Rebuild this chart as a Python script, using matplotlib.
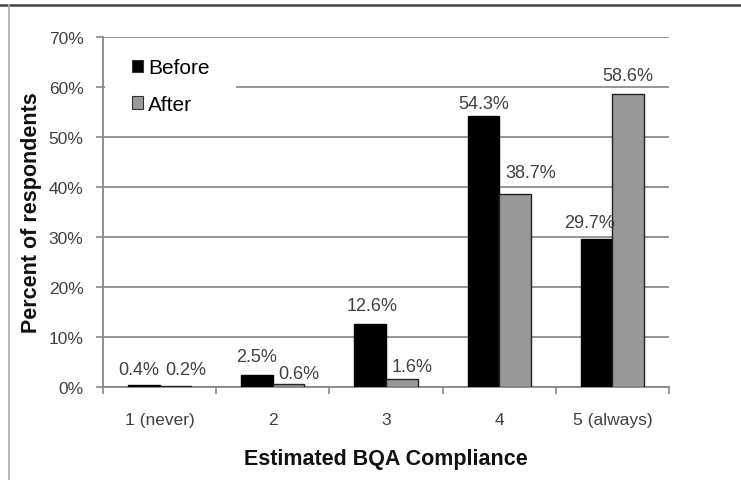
import matplotlib
matplotlib.use("Agg")
import matplotlib.pyplot as plt
from matplotlib.lines import Line2D
from matplotlib.patches import Rectangle
import numpy as np

categories = ["1 (never)", "2", "3", "4", "5 (always)"]
before = [0.4, 2.5, 12.6, 54.3, 29.7]
after = [0.2, 0.6, 1.6, 38.7, 58.6]
series_names = ["Before", "After"]

# hand-placed label nudges (pixels: right, up from bar top)
before_label_shift = [(-5, 15), (0, 18), (2, 18), (0, 12), (-7, 16)]
after_label_shift = [(10, 16), (10, 10), (10, 12), (16, 21), (0, 18)]

plt.rcParams["font.family"] = ["Liberation Sans", "DejaVu Sans"]

fig = plt.figure(figsize=(7.41, 4.81), dpi=100)
ax = fig.add_axes([103 / 741, 93 / 481, 566 / 741, 350 / 481])

x = np.arange(len(categories))
w = 0.28
b1 = ax.bar(x - w / 2, before, w, color="black", edgecolor="black", linewidth=1, label=series_names[0], zorder=3)
b2 = ax.bar(x + w / 2, after, w, color="#999999", edgecolor="#222222", linewidth=1, label=series_names[1], zorder=3)

px = 72 / 100  # points per pixel
for rects, vals, shifts in ((b1, before, before_label_shift), (b2, after, after_label_shift)):
    for r, v, (dx, dy) in zip(rects, vals, shifts):
        ax.annotate(f"{v:.1f}%", (r.get_x() + r.get_width() / 2, v),
                    xytext=(dx * px, dy * px), textcoords="offset points",
                    ha="center", va="center", fontsize=13, color="#404040", zorder=4)

ax.set_xlim(-0.5, len(categories) - 0.5)
ax.set_ylim(0, 70)
ax.set_yticks(np.arange(0, 71, 10))
ax.set_yticklabels([f"{t}%" for t in range(0, 71, 10)], fontsize=12.5, color="#404040")
ax.set_xticks(x)
ax.set_xticklabels(categories, fontsize=12.5, color="#404040")
ax.set_xticks(np.arange(-0.5, len(categories), 1), minor=True)
ax.tick_params(axis="x", which="major", length=0, pad=25 * px)
ax.tick_params(axis="x", which="minor", length=5, width=1.2, color="#888888", direction="out")
ax.tick_params(axis="y", length=5, width=1.2, color="#888888", direction="out", pad=9)

ax.yaxis.grid(True, color="#8c8c8c", linewidth=1.3)
ax.set_axisbelow(True)
for s in ("top", "right"):
    ax.spines[s].set_visible(False)
for s in ("left", "bottom"):
    ax.spines[s].set_color("#888888")
    ax.spines[s].set_linewidth(1.3)

ax.set_ylabel("Percent of respondents", fontsize=15.5, fontweight="bold", color="#111111")
ax.yaxis.set_label_coords(-71 / 566, 0.5)
ax.set_xlabel("Estimated BQA Compliance", fontsize=15.5, fontweight="bold", color="#111111")
ax.xaxis.set_label_coords(0.5, -(460 - 388) / 350)
ax.xaxis.label.set_va("center")
ax.yaxis.label.set_va("center")

# white backing behind the legend, covering the gridline it sits on
ax.add_patch(Rectangle((0.003, 0.76), 0.232, 0.223, transform=ax.transAxes,
                       facecolor="white", edgecolor="none", zorder=1))

leg = ax.legend(loc="upper left", bbox_to_anchor=(0.034, 0.966), frameon=False, fontsize=15,
                handlelength=0.55, handleheight=0.55, handletextpad=0.25, borderpad=0.45,
                labelspacing=0.85, borderaxespad=0)
leg.set_zorder(5)
for h in leg.legend_handles:
    h.set_linewidth(0.8)
    h.set_edgecolor("#333333")

# Frame lines around the figure
fig.add_artist(Line2D([0, 1], [1 - 6 / 481, 1 - 6 / 481], transform=fig.transFigure, color="#444444", linewidth=1.8))
fig.add_artist(Line2D([9 / 741, 9 / 741], [0, 1 - 6 / 481], transform=fig.transFigure, color="#b0b0b0", linewidth=1.3))

fig.savefig("out.png", dpi=100)
